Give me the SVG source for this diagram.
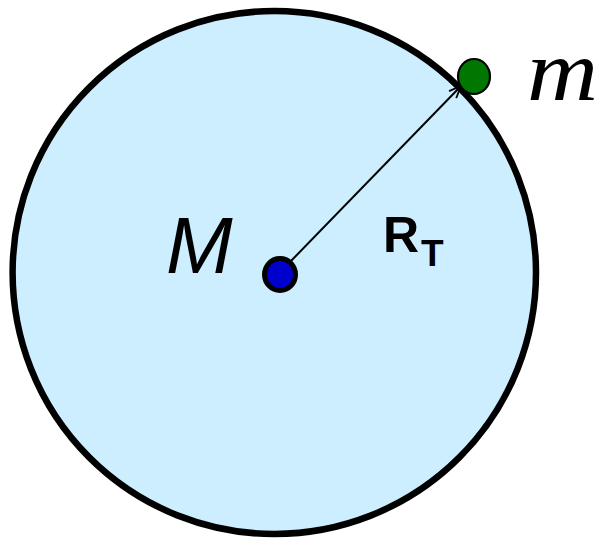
<svg xmlns="http://www.w3.org/2000/svg" width="601" height="538" viewBox="0 0 601 538">
<style>
.lbl{font-family:"Liberation Sans",Arial,sans-serif;fill:#000}
</style>
<defs>
<marker id="arr" markerWidth="14" markerHeight="12" refX="13" refY="6" orient="auto" markerUnits="userSpaceOnUse">
<path d="M1,1 L13,6 L1,11" fill="none" stroke="#000" stroke-width="1.8"/>
</marker>
</defs>
<rect width="601" height="538" fill="#fff"/>
<g id="planet">
<ellipse cx="274.3" cy="272.5" rx="261.7" ry="261.5" fill="#cceeff" stroke="#000" stroke-width="6.5"/>
</g>
<g id="connectors">
<line x1="290" y1="262" x2="461" y2="86" stroke="#000" stroke-width="2" marker-end="url(#arr)"/>
</g>
<g id="center">
<ellipse cx="280" cy="274.5" rx="15.5" ry="16" fill="#0000cc" stroke="#000" stroke-width="5"/>
<text class="lbl" x="166" y="273" font-size="80" font-style="italic">M</text>
</g>
<g id="mass">
<ellipse cx="474" cy="76.5" rx="16" ry="17.5" fill="#007700" stroke="#000" stroke-width="2.2"/>
<text x="527" y="100" font-family="'Liberation Serif','Times New Roman',serif" font-style="italic" font-size="86" textLength="71" lengthAdjust="spacingAndGlyphs">m</text>
</g>
<g id="radius-label">
<text class="lbl" x="383" y="252" font-size="50" font-weight="bold">R</text>
<text class="lbl" x="421" y="266" font-size="37" font-weight="bold">T</text>
</g>
</svg>
